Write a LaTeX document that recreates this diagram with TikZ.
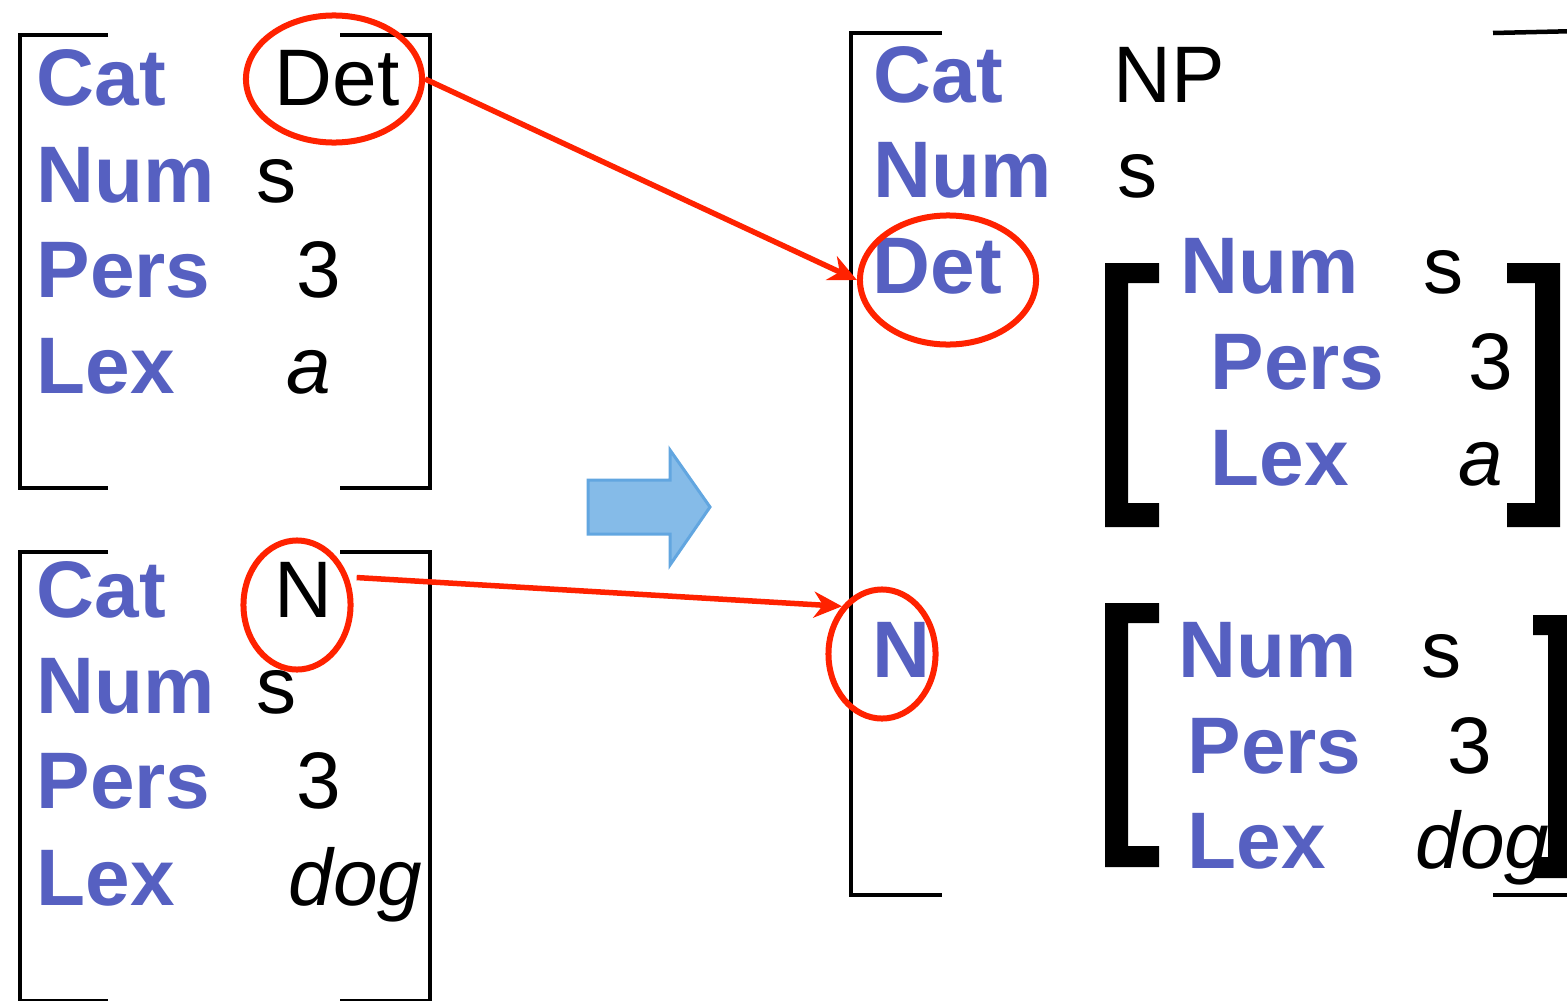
\documentclass[tikz,border=0pt]{standalone}
\usepackage{fontspec}
\setmainfont{Liberation Sans}
\usetikzlibrary{arrows.meta,shapes.geometric}
\definecolor{lblue}{RGB}{86,96,193}
\definecolor{ared}{RGB}{255,34,0}
\definecolor{afill}{RGB}{133,187,232}
\definecolor{aedge}{RGB}{98,166,224}
\begin{document}
\begin{tikzpicture}[x=0.01cm,y=-0.01cm,
  feat/.style={anchor=base west,inner sep=0pt,text=lblue,font=\fontsize{22.8}{27}\selectfont\bfseries},
  val/.style={anchor=base west,inner sep=0pt,font=\fontsize{22.8}{27}\selectfont},
  ival/.style={anchor=base west,inner sep=0pt,font=\fontsize{22.8}{27}\selectfont\itshape},
  thinbr/.style={line width=0.045cm,line join=miter},
  ring/.style={ellipse,draw=ared,line width=0.06cm,inner sep=0pt},
  link/.style={draw=ared,line width=0.055cm,-{Stealth[length=0.28cm,width=0.26cm,inset=0.09cm]}}]
\useasboundingbox (0,0) rectangle (1567,1000);
\fill[white] (0,0) rectangle (1567,1000);

% ---------- top-left matrix ----------
\draw[thinbr] (108,35) -- (20,35) -- (20,488) -- (108,488);
\draw[thinbr] (340,35) -- (430,35) -- (430,488) -- (340,488);
\node[feat] (tcat) at (36,105) {Cat};
\node[feat] (tnum) at (36,202) {Num};
\node[feat] (tper) at (36,297) {Pers};
\node[feat] (tlex) at (36,393) {Lex};
\node[val] (tdet) at (274,105) {Det};
\node[val] (ts) at (256,202) {s};
\node[val] (t3) at (296,297) {3};
\node[ival] (ta) at (286,393) {a};

% ---------- bottom-left matrix ----------
\draw[thinbr] (108,552) -- (20,552) -- (20,1001) -- (108,1001);
\draw[thinbr] (340,552) -- (430,552) -- (430,1001) -- (340,1001);
\node[feat] (bcat) at (36,617) {Cat};
\node[feat] (bnum) at (36,713) {Num};
\node[feat] (bper) at (36,808) {Pers};
\node[feat] (blex) at (36,905) {Lex};
\node[val] (bn) at (274,617) {N};
\node[val] (bs) at (256,713) {s};
\node[val] (b3) at (296,808) {3};
\node[ival] (bdog) at (288,905) {dog};

% ---------- block arrow ----------
\draw[fill=afill,draw=aedge,line width=0.03cm,line join=miter]
  (588,480) -- (670,480) -- (670,450) -- (710,507) -- (670,565) -- (670,534) -- (588,534) -- cycle;

% ---------- right big matrix ----------
\draw[thinbr] (942,33) -- (851,33) -- (851,895) -- (942,895);
\draw[thinbr] (1493,33) -- (1580,31);
\draw[thinbr] (1493,895) -- (1580,895);
\node[feat] (rcat) at (873,102) {Cat};
\node[val] (rnp) at (1113,102) {NP};
\node[feat] (rnum) at (873,197) {Num};
\node[val] (rs) at (1117,197) {s};
\node[feat] (rdet) at (872,293) {Det};
\node[feat] (rn) at (872,677) {N};

% inner matrix 1
\fill (1105,263) -- (1159,263) -- (1159,283) -- (1128,283) -- (1128,503) -- (1159,503) -- (1159,527) -- (1105,527) -- cycle;
\fill (1560,263) -- (1507,263) -- (1507,283) -- (1535,283) -- (1535,503) -- (1507,503) -- (1507,527) -- (1560,527) -- cycle;
\node[feat] (inum) at (1180,293) {Num};
\node[val] (is) at (1423,293) {s};
\node[feat] (iper) at (1210,389) {Pers};
\node[val] (i3) at (1468,389) {3};
\node[feat] (ilex) at (1210,485) {Lex};
\node[ival] (ia) at (1458,485) {a};

% inner matrix 2
\fill (1105,603) -- (1159,603) -- (1159,623) -- (1128,623) -- (1128,846) -- (1159,846) -- (1159,867) -- (1105,867) -- cycle;
\node[feat] (jnum) at (1178,677) {Num};
\node[val] (js) at (1421,677) {s};
\node[feat] (jper) at (1187,773) {Pers};
\node[val] (j3) at (1447,773) {3};
\node[feat] (jlex) at (1187,868) {Lex};
\node[ival] (jdog) at (1415,868) {dog};
\fill (1575,615) -- (1533,615) -- (1533,635) -- (1548,635) -- (1548,857) -- (1535,857) -- (1535,878) -- (1575,878) -- cycle;

% ---------- red rings ----------
\node[ring,minimum width=1.76cm,minimum height=1.27cm] (detA) at (334,79) {};
\node[ring,minimum width=1.07cm,minimum height=1.29cm] (nA) at (297,605) {};
\node[ring,minimum width=1.76cm,minimum height=1.29cm] (detB) at (948,280) {};
\node[ring,minimum width=1.07cm,minimum height=1.29cm] (nB) at (882,654) {};

% ---------- red links ----------
\draw[link] (detA.east) -- (detB.west);
\draw[link] ([shift={(8,0)}]nA.28) -- (nB.130);
\end{tikzpicture}
\end{document}
